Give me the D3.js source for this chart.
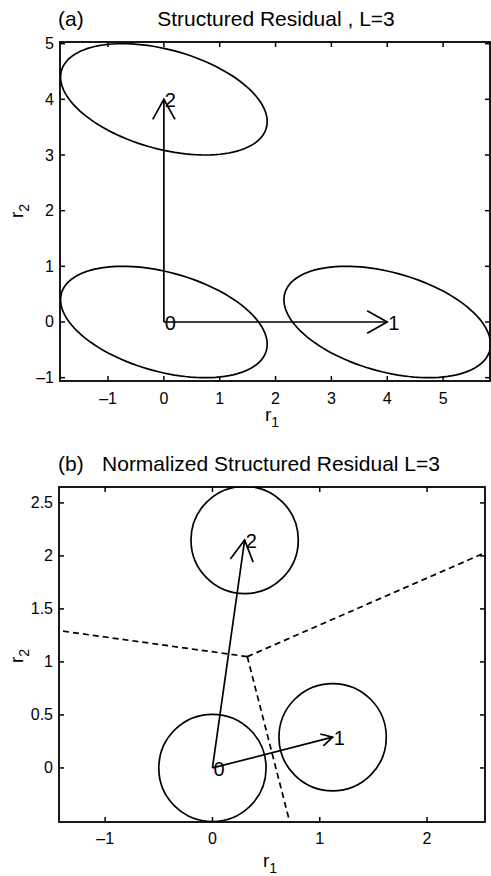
<!DOCTYPE html>
<html>
<head>
<meta charset="utf-8">
<script src="https://cdn.jsdelivr.net/npm/d3@7"></script>
<style>
  body { margin: 0; background: #fff; }
  svg text { font-family: "Liberation Sans", Arial, sans-serif; fill: #000; }
</style>
</head>
<body>
<svg id="fig" width="491" height="876"></svg>
<script>
// ---- panel (a) data ----
var aCenters = [[0, 0], [4, 0], [0, 4]];
var aLabels = ["0", "1", "2"];
var aArrowEnds = [[4, 0], [0, 4]];
// ellipse: half extent in r1, half extent in r2, correlation (cos of phase)
var aEllipse = {rx: 1.85, ry: 1.0, corr: -0.4};
var aXTicks = [-1, 0, 1, 2, 3, 4, 5];
var aYTicks = [-1, 0, 1, 2, 3, 4, 5];
var aXDomain = [-1.86, 5.84];
var aYDomain = [-1.06, 5.03];

// ---- panel (b) data ----
var bCenters = [[0, 0], [1.12, 0.29], [0.30, 2.15]];
var bLabels = ["0", "1", "2"];
var bArrowEnds = [[1.12, 0.29], [0.30, 2.15]];
var bRadius = 0.5;
var bJunction = [0.325, 1.05];
var bBoundaryEnds = [[-1.43, 1.295], [2.54, 2.03], [0.72, -0.51]];
var bXTicks = [-1, 0, 1, 2];
var bYTicks = [0, 0.5, 1, 1.5, 2, 2.5];
var bXDomain = [-1.43, 2.54];
var bYDomain = [-0.51, 2.65];

var svg = d3.select("#fig");
var lw = 1.7;

function drawAxes(g, x, y, xt, yt, tickY) {
    var x0 = x.range()[0], x1 = x.range()[1],
        y0 = y.range()[0], y1 = y.range()[1];
    var tl = 5;
    xt.forEach(function(t) {
        g.append("line").attr("x1", x(t)).attr("x2", x(t)).attr("y1", y0).attr("y2", y0 - tl)
            .attr("stroke", "#000").attr("stroke-width", 1.5);
        g.append("line").attr("x1", x(t)).attr("x2", x(t)).attr("y1", y1).attr("y2", y1 + tl)
            .attr("stroke", "#000").attr("stroke-width", 1.5);
        g.append("text").attr("x", x(t)).attr("y", tickY)
            .attr("text-anchor", "middle").attr("dominant-baseline", "central")
            .style("font-size", "16px")
            .text(t < 0 ? "\u2013" + Math.abs(t) : t);
    });
    yt.forEach(function(t) {
        g.append("line").attr("x1", x0).attr("x2", x0 + tl).attr("y1", y(t)).attr("y2", y(t))
            .attr("stroke", "#000").attr("stroke-width", 1.5);
        g.append("line").attr("x1", x1).attr("x2", x1 - tl).attr("y1", y(t)).attr("y2", y(t))
            .attr("stroke", "#000").attr("stroke-width", 1.5);
        g.append("text").attr("x", x0 - 6).attr("y", y(t))
            .attr("text-anchor", "end").attr("dominant-baseline", "central")
            .style("font-size", "16px")
            .text(t < 0 ? "\u2013" + Math.abs(t) : t);
    });
    g.append("rect").attr("x", x0).attr("y", y1).attr("width", x1 - x0).attr("height", y0 - y1)
        .attr("fill", "none").attr("stroke", "#000").attr("stroke-width", 1.8);
}

function drawArrow(g, x, y, from, to) {
    var px0 = x(from[0]), py0 = y(from[1]), px1 = x(to[0]), py1 = y(to[1]);
    var dx = px1 - px0, dy = py1 - py0, len = Math.sqrt(dx * dx + dy * dy);
    var ux = dx / len, uy = dy / len;
    var hl = 0.09 * len, hw = 0.05 * len;
    g.append("line").attr("x1", px0).attr("y1", py0).attr("x2", px1).attr("y2", py1)
        .attr("stroke", "#000").attr("stroke-width", lw);
    var bx = px1 - ux * hl, by = py1 - uy * hl;
    g.append("path")
        .attr("d", "M" + (bx - uy * hw) + "," + (by + ux * hw) + "L" + px1 + "," + py1 +
            "L" + (bx + uy * hw) + "," + (by - ux * hw))
        .attr("fill", "none").attr("stroke", "#000").attr("stroke-width", lw);
}

function drawLabels(g, x, y, pts, labels) {
    g.selectAll(null).data(pts).enter().append("text")
        .attr("x", function(d) { return x(d[0]) + 1; })
        .attr("y", function(d) { return y(d[1]) + 1; })
        .attr("dominant-baseline", "central")
        .style("font-size", "20px")
        .text(function(d, i) { return labels[i]; });
}

function axisLabels(g, xl, yl) {
    var t = g.append("text").attr("x", xl[0]).attr("y", xl[1])
        .attr("text-anchor", "middle").style("font-size", "19px");
    t.append("tspan").text("r");
    t.append("tspan").attr("dy", 6).style("font-size", "14px").text("1");
    var t2 = g.append("text").attr("transform", "translate(" + yl[0] + "," + yl[1] + ") rotate(-90)")
        .attr("text-anchor", "middle").style("font-size", "19px");
    t2.append("tspan").text("r");
    t2.append("tspan").attr("dy", 6).style("font-size", "14px").text("2");
}

// ================= panel (a) =================
var xa = d3.scaleLinear().domain(aXDomain).range([60, 490]);
var ya = d3.scaleLinear().domain(aYDomain).range([381, 42]);
var ga = svg.append("g");

ga.append("clipPath").attr("id", "clipA").append("rect")
    .attr("x", 60).attr("y", 42).attr("width", 430).attr("height", 339);

var phase = Math.acos(aEllipse.corr);
var tSteps = d3.range(0, 361, 3).map(function(d) { return d * Math.PI / 180; });
var ellLine = d3.line().x(function(d) { return xa(d[0]); }).y(function(d) { return ya(d[1]); });
ga.append("g").attr("clip-path", "url(#clipA)")
    .selectAll("path").data(aCenters).enter().append("path")
    .attr("d", function(c) {
        return ellLine(tSteps.map(function(t) {
            return [c[0] + aEllipse.rx * Math.cos(t), c[1] + aEllipse.ry * Math.cos(t - phase)];
        }));
    })
    .attr("fill", "none").attr("stroke", "#000").attr("stroke-width", lw);

aArrowEnds.forEach(function(e) { drawArrow(ga, xa, ya, aCenters[0], e); });
drawLabels(ga, xa, ya, aCenters, aLabels);
drawAxes(ga, xa, ya, aXTicks, aYTicks, 398);
axisLabels(ga, [272, 421], [23, 211]);

ga.append("text").attr("x", 58).attr("y", 18).attr("dominant-baseline", "central")
    .style("font-size", "21px").text("(a)");
ga.append("text").attr("x", 276).attr("y", 18).attr("dominant-baseline", "central")
    .attr("text-anchor", "middle").style("font-size", "21px").text("Structured Residual , L=3");

// ================= panel (b) =================
var xb = d3.scaleLinear().domain(bXDomain).range([59, 485]);
var yb = d3.scaleLinear().domain(bYDomain).range([822, 487]);
var gb = svg.append("g");

gb.append("clipPath").attr("id", "clipB").append("rect")
    .attr("x", 59).attr("y", 487).attr("width", 426).attr("height", 335);

var inner = gb.append("g").attr("clip-path", "url(#clipB)");
inner.selectAll("circle").data(bCenters).enter().append("circle")
    .attr("cx", function(d) { return xb(d[0]); })
    .attr("cy", function(d) { return yb(d[1]); })
    .attr("r", function(d) { return xb(d[0] + bRadius) - xb(d[0]); })
    .attr("fill", "none").attr("stroke", "#000").attr("stroke-width", lw);

inner.selectAll("line.bd").data(bBoundaryEnds).enter().append("line")
    .attr("class", "bd")
    .attr("x1", xb(bJunction[0])).attr("y1", yb(bJunction[1]))
    .attr("x2", function(d) { return xb(d[0]); })
    .attr("y2", function(d) { return yb(d[1]); })
    .attr("stroke", "#000").attr("stroke-width", lw).attr("stroke-dasharray", "6,4");

bArrowEnds.forEach(function(e) { drawArrow(gb, xb, yb, bCenters[0], e); });
drawLabels(gb, xb, yb, bCenters, bLabels);
drawAxes(gb, xb, yb, bXTicks, bYTicks, 838);
axisLabels(gb, [270, 867], [23, 656]);

gb.append("text").attr("x", 58).attr("y", 463).attr("dominant-baseline", "central")
    .style("font-size", "21px").text("(b)");
gb.append("text").attr("x", 271).attr("y", 463).attr("dominant-baseline", "central")
    .attr("text-anchor", "middle").style("font-size", "21px").text("Normalized Structured Residual L=3");
</script>
</body>
</html>
